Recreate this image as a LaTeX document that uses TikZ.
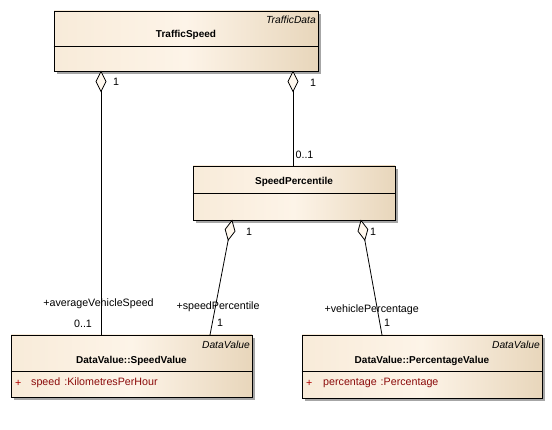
\documentclass[tikz,border=0pt]{standalone}
\usepackage{fontspec}
\setmainfont{Liberation Sans}
\usetikzlibrary{positioning,shapes.geometric,shadows}
\definecolor{boxleft}{HTML}{F8EBD9}
\definecolor{boxmid}{HTML}{FDF4E8}
\definecolor{boxright}{HTML}{E8D6BB}
\definecolor{shadowgray}{HTML}{A6A6A6}
\definecolor{diamondfill}{HTML}{FFF8EE}
\definecolor{attrred}{HTML}{8B0A0A}
\definecolor{plusred}{HTML}{B00000}
\begin{document}
\begin{tikzpicture}[x=1pt,y=1pt,
    every node/.style={inner sep=0pt, font=\fontsize{10.7}{12}\selectfont},
    classbox/.style={draw=black, line width=0.9pt, left color=boxleft, right color=boxright, middle color=boxmid,
        drop shadow={shadow xshift=3pt, shadow yshift=-3pt, fill=shadowgray, opacity=1}},
    classname/.style={font=\fontsize{10}{12}\selectfont\bfseries},
    stereo/.style={font=\fontsize{10.3}{12}\selectfont\itshape, anchor=east},
    attr/.style={text=attrred, anchor=west},
    aggr/.style={diamond, draw=black, fill=diamondfill, line width=0.8pt, minimum width=10pt, minimum height=20pt, inner sep=0pt, outer sep=0pt, anchor=north},
    assoc/.style={draw=black, line width=0.8pt}]
    \useasboundingbox (0,0) rectangle (552,430);
    % classes
    \node[classbox, minimum width=264pt, minimum height=60pt] (ts) at (186,389) {};
    \draw[line width=0.9pt] ([yshift=-36pt]ts.north west) -- ([yshift=-36pt]ts.north east);
    \node[stereo] (tsster) at (316,410) {TrafficData};
    \node[classname] (tsname) at (186,395) {TrafficSpeed};
    \node[classbox, minimum width=202pt, minimum height=54pt] (sp) at (294,237) {};
    \draw[line width=0.9pt] (sp.west) -- (sp.east);
    \node[classname] (spname) at (294,248) {SpeedPercentile};
    \node[classbox, minimum width=241pt, minimum height=62pt] (sv) at (131.5,64) {};
    \draw[line width=0.9pt] ([yshift=-37pt]sv.north west) -- ([yshift=-37pt]sv.north east);
    \node[stereo] (svster) at (250,85) {DataValue};
    \node[classname] (svname) at (131.5,69) {DataValue::SpeedValue};
    \node[attr, text=plusred] (svplus) at (15,47) {+};
    \node[attr] (svattr) at (31,47) {speed\hspace{4pt}:KilometresPerHour};
    \node[classbox, minimum width=240pt, minimum height=63pt] (pv) at (422,63.5) {};
    \draw[line width=0.9pt] ([yshift=-37pt]pv.north west) -- ([yshift=-37pt]pv.north east);
    \node[stereo] (pvster) at (540,85) {DataValue};
    \node[classname] (pvname) at (422,69) {DataValue::PercentageValue};
    \node[attr, text=plusred] (pvplus) at (306,47) {+};
    \node[attr] (pvattr) at (323,47) {percentage\hspace{4pt}:Percentage};
    % aggregations
    \node[aggr] (tsl) at (101,358.5) {};
    \node[aggr] (tsr) at (293,358.5) {};
    \node[aggr, rotate=-11] (spl) at (232,209.5) {};
    \node[aggr, rotate=11] (spr) at (361,209.5) {};
    \coordinate (svin) at (210,95);
    \coordinate (pvin) at (382,95);
    \draw[assoc] (tsl.south) -- (tsl.south |- sv.north);
    \draw[assoc] (tsr.south) -- (tsr.south |- sp.north);
    \draw[assoc] (spl.south) -- (svin);
    \draw[assoc] (spr.south) -- (pvin);
    % roles and multiplicities
    \node (tslm) at (116,348) {1};
    \node (tsrm) at (313,347) {1};
    \node (spm) at (304.5,275) {0..1};
    \node (splm) at (249,198) {1};
    \node (sprm) at (373,198) {1};
    \node (avs) at (98.5,126.7) {+averageVehicleSpeed};
    \node (avsm) at (83,106) {0..1};
    \node (spp) at (218,123.3) {+speedPercentile};
    \node (sppm) at (220,107) {1};
    \node (vp) at (371.7,120.7) {+vehiclePercentage};
    \node (vpm) at (387,107) {1};
\end{tikzpicture}
\end{document}
